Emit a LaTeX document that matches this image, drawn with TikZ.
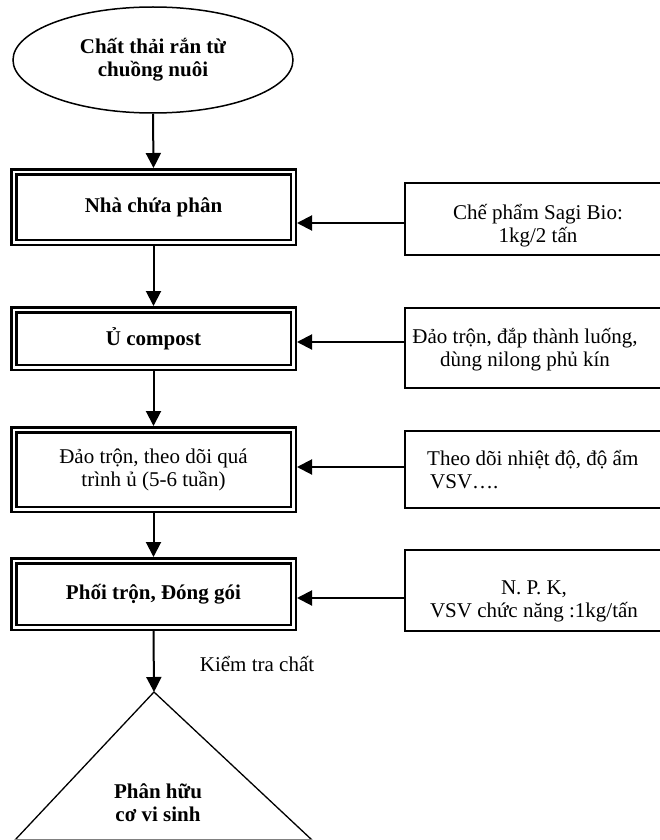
\documentclass[tikz,border=0pt]{standalone}
\usepackage{fontspec}
\setmainfont{Liberation Serif}
\usetikzlibrary{shapes.geometric,arrows.meta}
\begin{document}
\begin{tikzpicture}[x=1pt,y=-1pt,
  dbox/.style={draw, double, line width=2.5pt, double distance=2.5pt, outer sep=3.75pt, inner sep=0pt, minimum width=279.5pt},
  sbox/.style={draw, line width=2pt, inner sep=0pt, minimum width=275pt},
  txt/.style={font=\fontsize{21}{23}\selectfont, align=center, inner sep=0pt},
  btxt/.style={font=\fontsize{21}{23}\selectfont\bfseries, align=center},
  arr/.style={line width=2pt, -{Triangle[length=15pt,width=15pt]}}]
\useasboundingbox (0,0) rectangle (660,840);
\clip (0,0) rectangle (660,840);
% main column
\node[ellipse, draw, line width=1.5pt, minimum width=280pt, minimum height=106pt, inner sep=0pt, btxt] (e) at (153,60) {Chất thải rắn từ\\chuồng nuôi};
\node[dbox, minimum height=70.5pt, btxt] (b1) at (153.5,207) {Nhà chứa phân};
\node[dbox, minimum height=57.5pt, btxt] (b2) at (153.5,338.5) {Ủ compost};
\node[dbox, minimum height=79.5pt, txt] (b3) at (153.5,469.5) {Đảo trộn, theo dõi quá\\trình ủ (5-6 tuần)};
\node[dbox, minimum height=66.5pt, btxt] (b4) at (153.5,594) {Phối trộn, Đóng gói};
% right column
\node[sbox, minimum height=72pt] (r1) at (542.5,219) {};
\node[txt] (r1t) at (538,226) {Chế phẩm Sagi Bio:\\1kg/2 tấn};
\node[sbox, minimum height=80pt] (r2) at (542.5,348) {};
\node[txt] (r2t) at (525,350) {Đảo trộn, đắp thành luống,\\dùng nilong phủ kín};
\node[sbox, minimum height=77pt] (r3) at (542.5,469.5) {};
\node[txt, align=left, anchor=west] (r3t) at (427,470) {Theo dõi nhiệt độ, độ ẩm\\\hspace*{3pt}VSV….};
\node[sbox, minimum height=81pt] (r4) at (542.5,590.5) {};
\node[txt] (r4t) at (534,601) {N. P. K,\\VSV chức năng :1kg/tấn};
% final product
\coordinate (ta) at (154,692);
\coordinate (tl) at (15,840);
\coordinate (tr) at (312,840);
\draw[line width=1.3pt] (tl) -- (ta) -- (tr);
\draw[gray, line width=1.3pt] (tl) -- (tr);
\node[btxt] (tt) at (158,803) {Phân hữu\\cơ vi sinh};
\node[txt] (kt) at (257,664) {Kiểm tra chất};
% arrows
\draw[arr] (e.south) -- (b1.north);
\draw[arr] (b1.south) -- (b2.north);
\draw[arr] (b2.south) -- (b3.north);
\draw[arr] (b3.south) -- (b4.north);
\draw[arr] (b4.south) -- (ta);
\draw[arr] ([yshift=-4pt]r1.west) coordinate (a1) -- (b1.east |- a1);
\draw[arr] ([yshift=6pt]r2.west) coordinate (a2) -- (b2.east |- a2);
\draw[arr] ([yshift=2.5pt]r3.west) coordinate (a3) -- (b3.east |- a3);
\draw[arr] ([yshift=-7.5pt]r4.west) coordinate (a4) -- (b4.east |- a4);
\end{tikzpicture}
\end{document}
